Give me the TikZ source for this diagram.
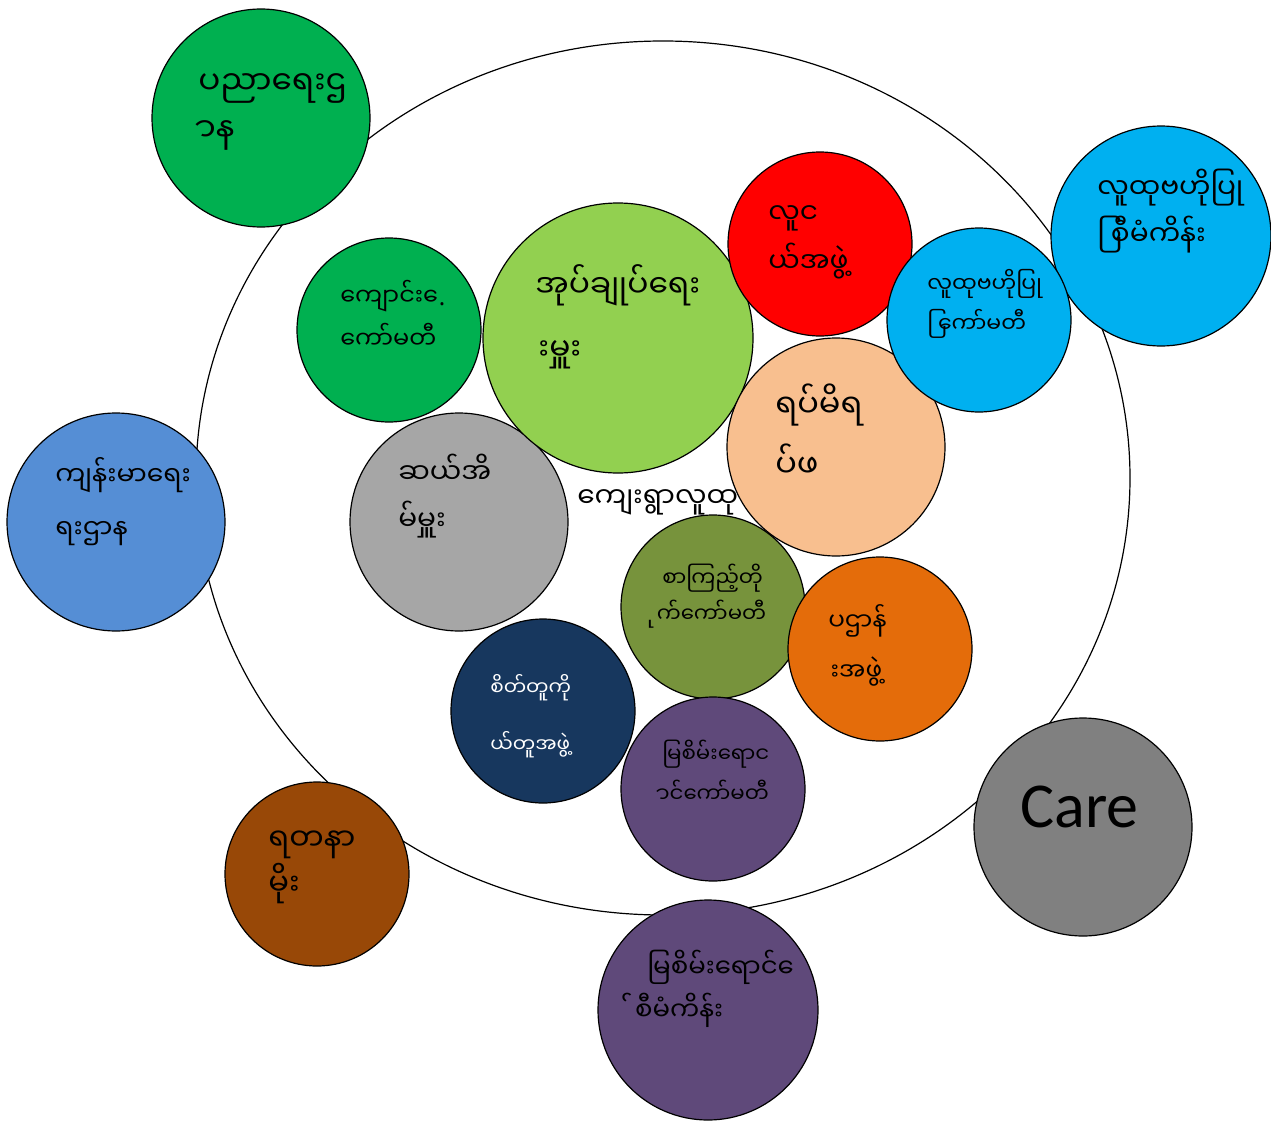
\documentclass[tikz,border=0pt]{standalone}
\usepackage{fontspec}
\usetikzlibrary{shapes.geometric}
\newfontfamily\myfont[Script=Myanmar]{Noto Sans Myanmar UI}
\newfontfamily\carefont{Carlito}
\newfontfamily\latfont{Noto Sans}
\definecolor{cgreen}{HTML}{00B050}
\definecolor{clgreen}{HTML}{92D050}
\definecolor{cred}{HTML}{FF0000}
\definecolor{csky}{HTML}{00B0F0}
\definecolor{cpeach}{HTML}{F8BF8F}
\definecolor{cblue}{HTML}{558ED5}
\definecolor{cgray}{HTML}{A6A6A6}
\definecolor{colive}{HTML}{77933C}
\definecolor{corange}{HTML}{E46C0A}
\definecolor{cnavy}{HTML}{17375E}
\definecolor{cpurple}{HTML}{5F497A}
\definecolor{cdgray}{HTML}{808080}
\definecolor{cbrown}{HTML}{984807}
\tikzset{
  circ/.style={circle, draw=black, line width=0.9pt, inner sep=0pt},
  lbl/.style={anchor=base west, inner sep=0pt, font=\myfont},
  msz/.style={font=\myfont\fontsize{#1}{#1}\selectfont},
}
\begin{document}
\catcode"A0=12
\begin{tikzpicture}[x=0.75pt,y=-0.75pt]
\useasboundingbox (0,0) rectangle (1271,1124);
\fill[white] (0,0) rectangle (1271,1124);
\node[ellipse, draw=black, line width=0.9pt, inner sep=0pt, minimum width=700.5pt, minimum height=655.5pt] (ring) at (663,478) {};
% circles
\node[circ, fill=cgreen, minimum size=163.5pt] (c1) at (261,118) {};
\node[circ, fill=csky, minimum size=165pt] (c2) at (1161,236) {};
\node[circ, fill=cgreen, minimum size=138pt] (c3) at (389,330) {};
\node[circ, fill=cgray, minimum size=163.5pt] (c9) at (459,522) {};
\node[circ, fill=clgreen, minimum size=202.5pt] (c4) at (618,338) {};
\node[circ, fill=cred, minimum size=138pt] (c5) at (820,244) {};
\node[circ, fill=cpeach, minimum size=163.5pt] (c7) at (836,447) {};
\node[circ, fill=csky, minimum size=138pt] (c6) at (979,320) {};
\node[circ, fill=cblue, minimum size=163.5pt] (c8) at (116,522) {};
\node[circ, fill=colive, minimum size=138pt] (c10) at (713,607) {};
\node[circ, fill=corange, minimum size=138pt] (c11) at (880,649) {};
\node[circ, fill=cnavy, minimum size=138pt] (c12) at (543,711) {};
\node[circ, fill=cpurple, minimum size=138pt] (c13) at (713,789) {};
\node[circ, fill=cdgray, minimum size=163.5pt] (c14) at (1083,827) {};
\node[circ, fill=cbrown, minimum size=138pt] (c15) at (317,874) {};
\node[circ, fill=cpurple, minimum size=165pt] (c16) at (708,1010) {};
% labels
\node[lbl, msz=24.5] (t1a) at (198,94) {ပညာရေးဌ};
\node[lbl, msz=24.5] (t1b) at (192,142) {^^^^00a0ာန};
\node[lbl, msz=21] (t2a) at (1097,198) {လူထုဗဟိုပြု};
\node[lbl, msz=21] (t2b) at (1097,245) {^^^^00a0ြစီမံကိန်း};
\node[lbl, msz=18] (t3a) at (340,305) {ကျောင်း^^^^00a0ေ\kern-4pt{\latfont .}};
\node[lbl, msz=18] (t3b) at (340,348) {ကော်မတီ};
\node[lbl, msz=23.5] (t4a) at (535,297) {အုပ်ချုပ်ရေး};
\node[lbl, msz=23.5] (t4b) at (530,360) {^^^^00a0းမှူး};
\node[lbl, msz=21] (t5a) at (768,223) {လူင};
\node[lbl, msz=21] (t5b) at (768,272) {ယ်အဖွဲ့};
\node[lbl, msz=16.5] (t6a) at (927,292) {လူထုဗဟိုပြု};
\node[lbl, msz=16.5] (t6b) at (927,332) {^^^^00a0ြကော်မတီ};
\node[lbl, msz=24] (t7a) at (775,417) {ရပ်မိရ};
\node[lbl, msz=24] (t7b) at (775,477) {ပ်ဖ};
\node[lbl, msz=20] (t8a) at (55,485) {ကျန်းမာရေး};
\node[lbl, msz=20] (t8b) at (55,538) {ရးဌာန};
\node[lbl, msz=21] (t9a) at (398,483) {ဆယ်အိ};
\node[lbl, msz=21] (t9b) at (398,530) {မ်မှူး};
\node[lbl, msz=21] (t10) at (577,507) {ကျေးရွာလူထု};
\node[lbl, msz=16] (t11a) at (662,586) {စာကြည့်တို};
\node[lbl, msz=16] (t11b) at (651,622) {^^^^00a0ုက်ကော်မတီ};
\node[lbl, msz=18.5] (t12a) at (828,630) {ပဌာန်};
\node[lbl, msz=18.5] (t12b) at (824,680) {^^^^00a0းအဖွဲ့};
\node[lbl, msz=15, text=white] (t13a) at (490,695) {စိတ်တူကို};
\node[lbl, msz=15, text=white] (t13b) at (490,752) {ယ်တူအဖွဲ့};
\node[lbl, msz=16] (t14a) at (662,762) {မြစိမ်းရောင};
\node[lbl, msz=16] (t14b) at (654,802) {^^^^00a0ာင်ကော်မတီ};
\node[lbl, msz=19.5] (t15a) at (647,977) {မြစိမ်းရောင်^^^^00a0ေ};
\node[lbl, msz=19.5] (t15b) at (628,1020) {^^^^00a0်စီမံကိန်း};
\node[lbl, msz=23] (t16a) at (268,850) {ရတနာ};
\node[lbl, msz=23] (t16b) at (268,895) {မိုး};
\node[anchor=base west, inner sep=0pt, font=\carefont\fontsize{48}{56}\selectfont] (t17) at (1020,827) {Care};
\end{tikzpicture}
\end{document}
